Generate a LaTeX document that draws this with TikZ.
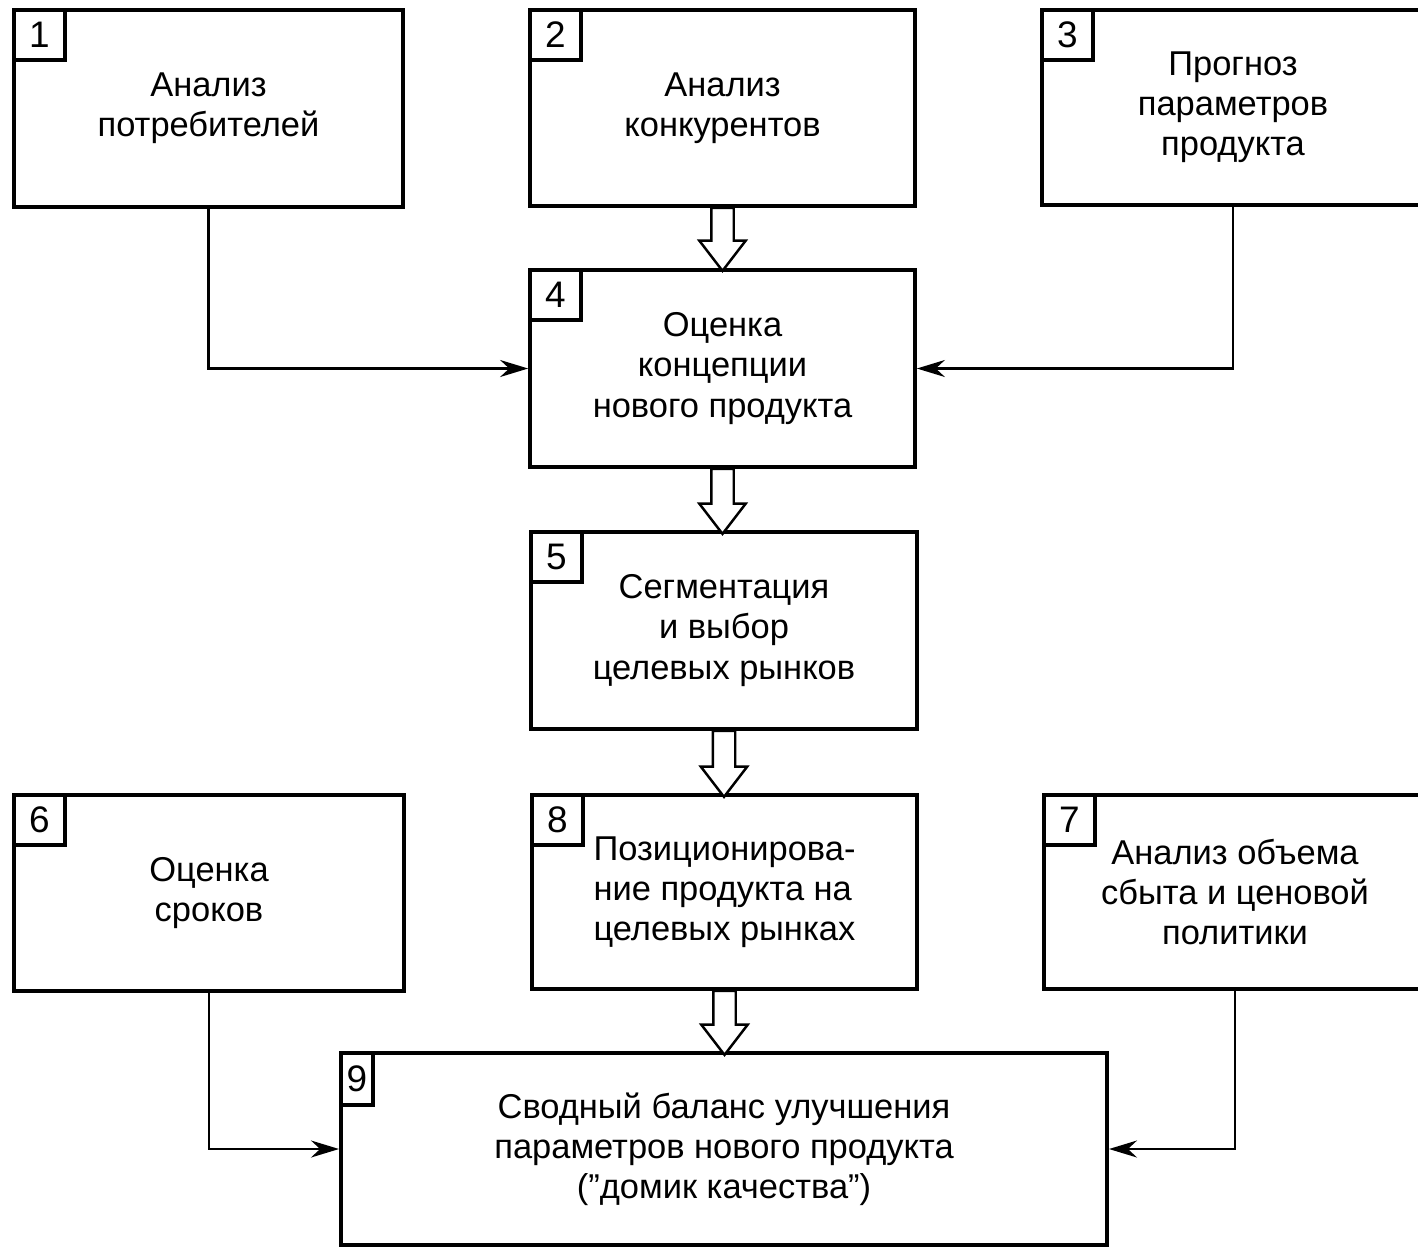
\documentclass[tikz,border=0pt]{standalone}
\usepackage{fontspec}
\setmainfont{Liberation Sans}
\usetikzlibrary{positioning}
\usetikzlibrary{arrows.meta}
\usetikzlibrary{shapes.arrows}

\begin{document}
\begin{tikzpicture}[x=0.01cm,y=-0.01cm,
		block/.style={draw,line width=1pt,rectangle,inner sep=0pt,align=center,font=\fontsize{9.8}{11.4}\selectfont},
		tag/.style={draw,line width=1pt,rectangle,inner sep=0pt,anchor=north west,minimum width=0.51cm,minimum height=0.5cm,font=\fontsize{10.5}{12}\selectfont},
		link/.style={line width=0.6pt,-{Stealth[length=2.8mm,width=1.7mm]}},
		hollow/.style={single arrow,draw,line width=0.7pt,fill=white,shape border rotate=270,inner sep=0.1cm,outer sep=0pt,minimum height=0.64cm,single arrow head extend=0.12cm,single arrow tip angle=75,anchor=tail}]
				\useasboundingbox (0,0) rectangle (1418,1248);
				\clip (0,0) rectangle (1418,1248);

				%Nodes
				\node[block,minimum width=3.89cm,minimum height=1.97cm] (b1) at (208.5,108.5) {Анализ\\потребителей};
				\node[block,minimum width=3.85cm,minimum height=1.96cm] (b2) at (722.5,108) {Анализ\\конкурентов};
				\node[block,minimum width=3.82cm,minimum height=1.95cm] (b3) at (1233,107.5) {Прогноз\\параметров\\продукта};
				\node[block,minimum width=3.85cm,minimum height=1.97cm] (b4) at (722.5,368.5) {Оценка\\концепции\\нового продукта};
				\node[block,minimum width=3.86cm,minimum height=1.97cm] (b5) at (724,630.5) {Сегментация\\и выбор\\целевых рынков};
				\node[block,minimum width=3.90cm,minimum height=1.96cm] (b6) at (209,893) {Оценка\\сроков};
				\node[block,minimum width=3.82cm,minimum height=1.94cm] (b7) at (1235,892) {Анализ объема\\сбыта и ценовой\\политики};
				\node[block,minimum width=3.85cm,minimum height=1.94cm,align=left] (b8) at (724.5,892) {Позиционирова-\\ние продукта на\\целевых рынках};
				\node[block,minimum width=7.66cm,minimum height=1.92cm] (b9) at (724,1149) {Сводный баланс улучшения\\параметров нового продукта\\("домик качества")};

				\node[tag] (t1) at (b1.north west) {1};
				\node[tag] (t2) at (b2.north west) {2};
				\node[tag] (t3) at (b3.north west) {3};
				\node[tag] (t4) at (b4.north west) {4};
				\node[tag] (t5) at (b5.north west) {5};
				\node[tag] (t6) at (b6.north west) {6};
				\node[tag] (t7) at (b7.north west) {7};
				\node[tag] (t8) at (b8.north west) {8};
				\node[tag,minimum width=0.32cm,minimum height=0.52cm] (t9) at (b9.north west) {9};

				%Lines
				\path (b2.south) -- (b4.north) node[hollow,pos=0,minimum height=0.63cm] (a24) {};
				\path (b4.south) -- (b5.north) node[hollow,pos=0,minimum height=0.65cm] (a45) {};
				\path (b5.south) -- (b8.north) node[hollow,pos=0,minimum height=0.66cm] (a58) {};
				\path (b8.south) -- (b9.north) node[hollow,pos=0,minimum height=0.64cm] (a89) {};

				\draw[link] (b1.south) |- (b4.west);
				\draw[link] (b3.south) |- (b4.east);
				\draw[link] (b6.south) |- (b9.west);
				\draw[link] (b7.south) |- (b9.east);

		\end{tikzpicture}
\end{document}
